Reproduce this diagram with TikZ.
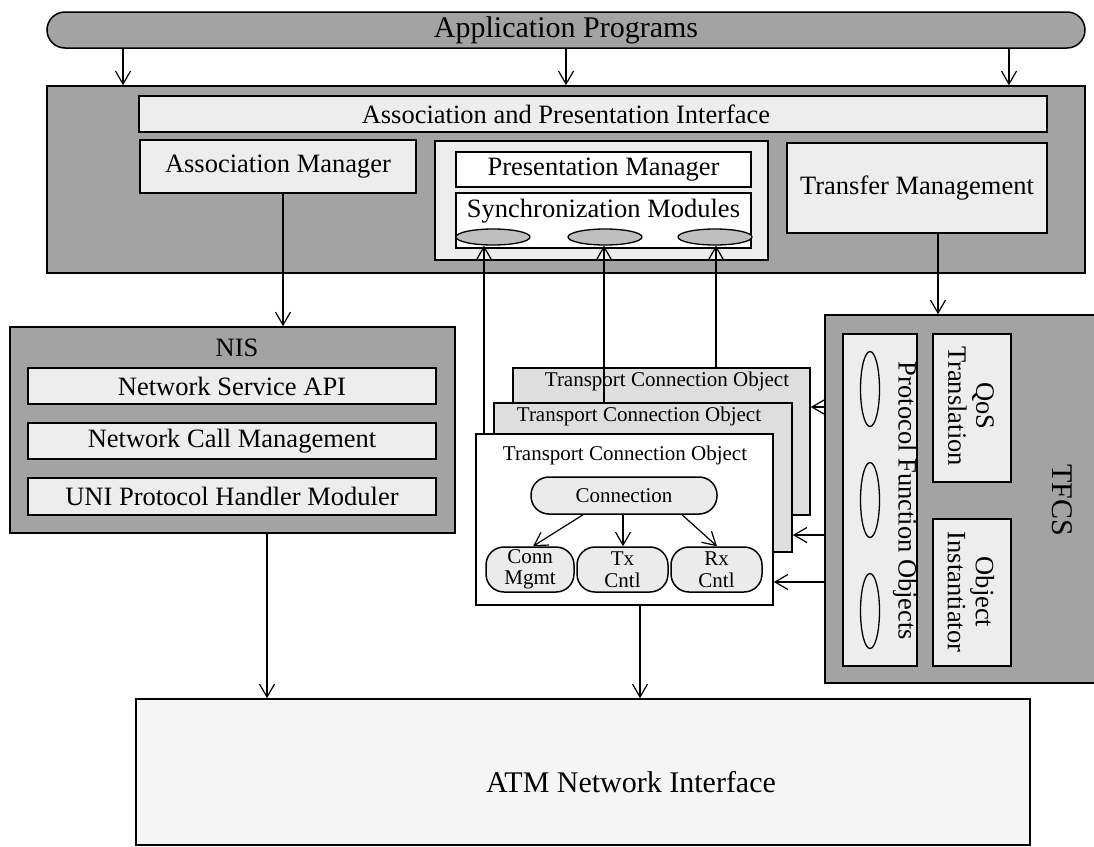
\documentclass[tikz,border=0pt]{standalone}
\usepackage{fontspec}
\setmainfont{Liberation Serif}
\usetikzlibrary{arrows.meta,shapes.geometric}

\definecolor{darkfill}{gray}{0.64}
\definecolor{lightfill}{gray}{0.93}
\definecolor{tcofill}{gray}{0.87}
\definecolor{atmfill}{gray}{0.96}
\newcommand{\boxfont}{\fontsize{26.5}{28}\selectfont}
\newcommand{\tcofont}{\fontsize{21}{21.5}\selectfont}

\begin{document}
\begin{tikzpicture}[x=1pt,y=-1pt,
    darkbox/.style={draw,line width=1.5,fill=darkfill,inner sep=0pt},
    lightbox/.style={draw,line width=1.5,fill=lightfill,inner sep=0pt,font=\boxfont},
    whitebox/.style={draw,line width=1.5,fill=white,inner sep=0pt,font=\boxfont},
    pill/.style={draw,line width=1.5,fill=tcofill!60,inner sep=0pt,rounded corners=18,font=\tcofont,align=center},
    module/.style={draw,ellipse,line width=1.3,fill=darkfill!70,inner sep=0pt,minimum width=74,minimum height=16},
    pfmodule/.style={draw,ellipse,line width=1.3,fill=lightfill,inner sep=0pt,minimum width=19,minimum height=75},
    txt/.style={inner sep=0pt,font=\boxfont},
    flow/.style={line width=1.2,-{Straight Barb[length=13pt,width=15pt]}}]

        \useasboundingbox (0,0) rectangle (1094,846);

        %Application programs bar
        \node[darkbox,rounded corners=18,minimum width=1038,minimum height=36,font=\fontsize{30}{30}\selectfont] (app) at (566,30) {Application Programs};

        %Association and presentation block
        \node[darkbox,minimum width=1038,minimum height=187] (upper) at (566,179.5) {};
        \node[lightbox,minimum width=908,minimum height=36] (api) at (593,114) {};
        \node[txt] (apitext) at (566,114) {Association and Presentation Interface};
        \node[lightbox,minimum width=276,minimum height=53] (assoc) at (278,166.5) {Association Manager};
        \node[lightbox,minimum width=333,minimum height=119] (prescont) at (601.5,200.5) {};
        \node[whitebox,minimum width=295,minimum height=35] (presmgr) at (603.5,169.5) {Presentation Manager};
        \node[whitebox,minimum width=295,minimum height=55] (sync) at (603.5,220.5) {};
        \node[txt] (synctext) at (603.5,211) {Synchronization Modules};
        \node[module] (sync1) at (493,237) {};
        \node[module] (sync2) at (605,237) {};
        \node[module] (sync3) at (715,237) {};
        \node[lightbox,minimum width=260,minimum height=90] (transfer) at (917,188) {Transfer Management};

        %Arrows from application programs
        \draw[flow] (123,0 |- app.south) -- (123,0 |- upper.north);
        \draw[flow] (566,0 |- app.south) -- (566,0 |- upper.north);
        \draw[flow] (1009,0 |- app.south) -- (1009,0 |- upper.north);

        %NIS block
        \node[darkbox,minimum width=445,minimum height=206] (nis) at (232.5,430) {};
        \node[txt] (nistext) at (237,348) {NIS};
        \node[lightbox,minimum width=408,minimum height=36] (nsapi) at (232,386) {Network Service API};
        \node[lightbox,minimum width=408,minimum height=36] (ncm) at (232,441) {Network Call Management};
        \node[lightbox,minimum width=408,minimum height=37] (uni) at (232,496.5) {UNI Protocol Handler Moduler};

        %Association manager to NIS
        \draw[flow] (283,0 |- assoc.south) -- (283,0 |- nis.north);

        %Transport connection objects, back to front
        \node[draw,line width=1.5,fill=tcofill,minimum width=297,minimum height=147] (tco3) at (661.5,441.5) {};
        \node[txt,font=\tcofont] (tco3text) at (667,381) {Transport Connection Object};
        \node[draw,line width=1.5,fill=tcofill,minimum width=298,minimum height=149] (tco2) at (643,477.5) {};
        \node[txt,font=\tcofont] (tco2text) at (639,416) {Transport Connection Object};
        \node[draw,line width=1.5,fill=white,minimum width=297,minimum height=171] (tco1) at (624.5,519.5) {};
        \node[txt,font=\tcofont] (tco1text) at (625,455) {Transport Connection Object};
        \node[pill,minimum width=186,minimum height=37] (conn) at (624,495.5) {Connection};
        \node[pill,minimum width=88,minimum height=45] (connmgmt) at (530,569.5) {Conn\\Mgmt};
        \node[pill,minimum width=91,minimum height=45] (txcntl) at (622.5,569.5) {Tx\\Cntl};
        \node[pill,minimum width=91,minimum height=45] (rxcntl) at (716.5,569.5) {Rx\\Cntl};

        %Connection to its parts
        \draw[flow] (583,0 |- conn.south) -- (533,0 |- connmgmt.north);
        \draw[flow] (623,0 |- conn.south) -- (623,0 |- txcntl.north);
        \draw[flow] (682,0 |- conn.south) -- (717,0 |- rxcntl.north);

        %Transport objects up to synchronization modules
        \draw[flow] (484,0 |- tco1.north) -- (484,0 |- sync1.south);
        \draw[flow] (604,0 |- tco2.north) -- (604,0 |- sync2.south);
        \draw[flow] (716,0 |- tco3.north) -- (716,0 |- sync3.south);

        %TFCS block
        \node[darkbox,minimum width=274,minimum height=368] (tfcs) at (962,499) {};
        \node[txt,rotate=-90,font=\fontsize{30}{30}\selectfont] (tfcstext) at (1062,500) {TFCS};
        \node[lightbox,minimum width=74,minimum height=332] (pfo) at (880,500) {};
        \node[pfmodule] (pfo1) at (870,389) {};
        \node[pfmodule] (pfo2) at (870,500) {};
        \node[pfmodule] (pfo3) at (870,611) {};
        \node[txt,rotate=-90] (pfotext) at (905,501) {Protocol Function Objects};
        \node[lightbox,minimum width=78,minimum height=148] (qos) at (972,408) {};
        \node[txt,rotate=-90,align=center] (qostext) at (971,406) {QoS\\Translation};
        \node[lightbox,minimum width=78,minimum height=147] (objinst) at (972,592.5) {};
        \node[txt,rotate=-90,align=center] (objtext) at (971,592) {Object\\Instantiator};

        %Transfer management to TFCS
        \draw[flow] (938,0 |- transfer.south) -- (938,0 |- tfcs.north);

        %TFCS to the transport objects
        \draw[flow] (tfcs.west |- 0,407) -- (tco3.east |- 0,407);
        \draw[flow] (tfcs.west |- 0,535) -- (tco2.east |- 0,535);
        \draw[flow] (tfcs.west |- 0,582) -- (tco1.east |- 0,582);

        %ATM network interface
        \node[draw,line width=1.5,fill=atmfill,minimum width=894,minimum height=146] (atm) at (583,772) {};
        \node[txt,font=\fontsize{30}{30}\selectfont] (atmtext) at (631,782) {ATM Network Interface};

        %Down to the ATM interface
        \draw[flow] (267,0 |- nis.south) -- (267,0 |- atm.north);
        \draw[flow] (640,0 |- tco1.south) -- (640,0 |- atm.north);

    \end{tikzpicture}
\end{document}
